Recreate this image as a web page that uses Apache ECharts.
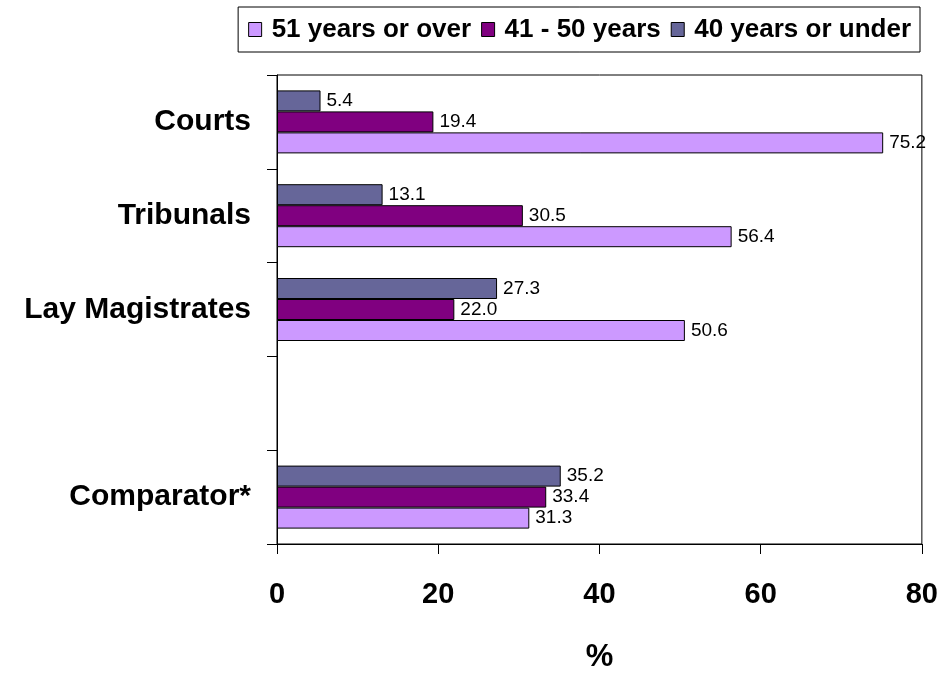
<!DOCTYPE html>
<html>
<head>
<meta charset="utf-8">
<script src="https://cdn.jsdelivr.net/npm/echarts@6/dist/echarts.min.js"></script>
<style>
    html, body { margin: 0; padding: 0; background: #fff; }
    #chart { width: 941px; height: 678px; }
</style>
</head>
<body>
<div id="chart"></div>
<script>
    // categories, top to bottom (one empty slot before the comparator)
    var categories = ['Courts', 'Tribunals', 'Lay Magistrates', '', 'Comparator*'];
    var over51 = [75.2, 56.4, 50.6, null, 31.3];
    var age41to50 = [19.4, 30.5, 22.0, null, 33.4];
    var under40 = [5.4, 13.1, 27.3, null, 35.2];
    var xTicks = [0, 20, 40, 60, 80];

    var FONT = "'Liberation Sans', Arial, sans-serif";

    var myChart = echarts.init(document.getElementById('chart'));

    function barSeries(name, data, color) {
        return {
            name: name,
            type: 'bar',
            data: data,
            barWidth: 21,
            barGap: '0%',
            itemStyle: {
                color: color,
                borderColor: '#000',
                borderWidth: 1
            },
            label: {
                show: true,
                position: 'right',
                distance: 6,
                color: '#000',
                fontFamily: FONT,
                fontSize: 19,
                formatter: function (p) {
                    return p.value == null ? '' : p.value.toFixed(1);
                }
            }
        };
    }

    var option = {
        backgroundColor: '#fff',
        animation: false,
        textStyle: { fontFamily: FONT },
        legend: {
            right: 21,
            top: 7,
            padding: [8, 9, 8, 10],
            borderColor: '#000',
            borderWidth: 1,
            itemWidth: 13,
            itemHeight: 14,
            itemGap: 10,
            icon: 'rect',
            itemStyle: { borderColor: '#000', borderWidth: 1 },
            data: ['51 years or over', '41 - 50 years', '40 years or under'],
            textStyle: {
                fontFamily: FONT,
                fontSize: 26,
                lineHeight: 29,
                fontWeight: 'bold',
                color: '#000',
                padding: [0, 0, 0, 5]
            }
        },
        grid: {
            left: 277,
            right: 18,
            top: 75,
            bottom: 128,
            show: true,
            borderColor: '#000',
            borderWidth: 1
        },
        xAxis: {
            type: 'value',
            min: xTicks[0],
            max: xTicks[xTicks.length - 1],
            interval: 20,
            name: '%',
            nameLocation: 'middle',
            nameGap: 98,
            nameTextStyle: {
                fontFamily: FONT,
                fontSize: 31,
                fontWeight: 'bold',
                color: '#000'
            },
            axisLine: { show: true, lineStyle: { color: '#000', width: 1 } },
            axisTick: { show: true, length: 10, lineStyle: { color: '#000' } },
            splitLine: { show: false },
            axisLabel: {
                margin: 36,
                fontFamily: FONT,
                fontSize: 29,
                fontWeight: 'bold',
                color: '#000'
            }
        },
        yAxis: {
            type: 'category',
            inverse: true,
            data: categories,
            axisLine: { show: true, lineStyle: { color: '#000', width: 1 } },
            axisTick: { show: true, length: 10, lineStyle: { color: '#000' } },
            axisLabel: {
                margin: 26,
                fontFamily: FONT,
                fontSize: 30,
                fontWeight: 'bold',
                color: '#000'
            }
        },
        series: [
            barSeries('40 years or under', under40, '#666699'),
            barSeries('41 - 50 years', age41to50, '#800080'),
            barSeries('51 years or over', over51, '#CC99FF')
        ]
    };

    myChart.setOption(option);
</script>
</body>
</html>
